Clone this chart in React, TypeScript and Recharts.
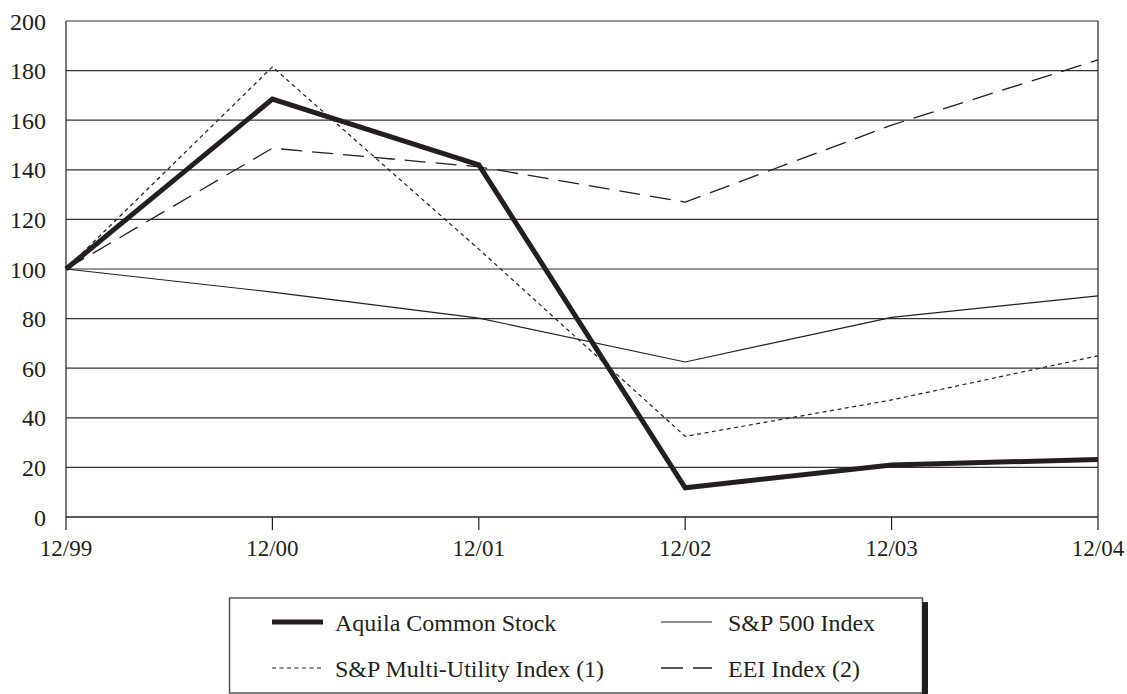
import { LineChart, Line, XAxis, YAxis, CartesianGrid, ReferenceLine } from 'recharts';

const periods = ['12/99', '12/00', '12/01', '12/02', '12/03', '12/04'];
const aquila = [100, 168.5, 142, 11.8, 21, 23.2];
const sp500 = [100, 90.7, 80.2, 62.5, 80.5, 89.2];
const multiUtility = [100, 181.5, 108, 32.5, 47.2, 65];
const eei = [100, 148.7, 141.2, 127, 158, 184.3];
const yTicks = [0, 20, 40, 60, 80, 100, 120, 140, 160, 180, 200];

const ink = '#231f20';
const font = 'Liberation Serif';

const series = [
  { key: 'aquila', name: 'Aquila Common Stock', width: 5, dash: undefined as string | undefined },
  { key: 'sp500', name: 'S&P 500 Index', width: 1.2, dash: undefined as string | undefined },
  { key: 'multi', name: 'S&P Multi-Utility Index (1)', width: 1.2, dash: '4 3.5' },
  { key: 'eei', name: 'EEI Index (2)', width: 1.3, dash: '21 10' },
];

const data = periods.map((p, i) => ({
  period: p,
  aquila: aquila[i],
  sp500: sp500[i],
  multi: multiUtility[i],
  eei: eei[i],
}));

const LegendBox = () => {
  const cols = [272, 661];
  const textCols = [335, 728];
  const rows = [28, 74];
  return (
    <svg width={1127} height={100} style={{ position: 'absolute', left: 0, top: 594 }}>
      <rect x={229.5} y={4} width={693} height={95} fill="#fff" stroke="#555" strokeWidth={1.5} />
      <rect x={922} y={8} width={6} height={92} fill={ink} />
      {series.map((s, i) => {
        const c = i % 2;
        const y = rows[Math.floor(i / 2)];
        return (
          <g key={s.key}>
            <line
              x1={cols[c]}
              x2={cols[c] + 51}
              y1={y}
              y2={y}
              stroke={ink}
              strokeWidth={s.width}
              strokeDasharray={s.key === 'eei' ? '22 10' : s.dash}
            />
            <text x={textCols[c]} y={y + 9} style={{ fontFamily: font, fontSize: 24 }} fill={ink}>
              {s.name}
            </text>
          </g>
        );
      })}
    </svg>
  );
};

export default function App() {
  return (
    <div style={{ position: 'absolute', left: 0, top: 0, width: 1127, height: 694, background: '#fff', fontFamily: font }}>
      <LineChart
        width={1127}
        height={580}
        data={data}
        margin={{ top: 21, right: 29, left: 0, bottom: 23 }}
      >
        <CartesianGrid vertical={false} stroke="#333" strokeWidth={1.2} />
        <XAxis
          dataKey="period"
          height={40}
          axisLine={{ stroke: ink, strokeWidth: 1.2 }}
          tickLine={{ stroke: ink, strokeWidth: 1.2 }}
          tickSize={13}
          tickMargin={10}
          interval={0}
          tick={{ fill: ink, fontSize: 23, style: { fontFamily: font } }}
        />
        <YAxis
          domain={[0, 200]}
          ticks={yTicks}
          width={66}
          axisLine={{ stroke: ink, strokeWidth: 1.2 }}
          tickLine={false}
          tickSize={0}
          tickMargin={20}
          tick={{ fill: ink, fontSize: 24, style: { fontFamily: font } }}
        />
        <ReferenceLine x="12/04" stroke={ink} strokeWidth={1.2} />
        {series.map((s) => (
          <Line
            key={s.key}
            type="linear"
            dataKey={s.key}
            name={s.name}
            stroke={ink}
            strokeWidth={s.width}
            strokeDasharray={s.dash}
            strokeLinejoin="miter"
            dot={false}
            activeDot={false}
            isAnimationActive={false}
          />
        ))}
      </LineChart>
      <LegendBox />
    </div>
  );
}
